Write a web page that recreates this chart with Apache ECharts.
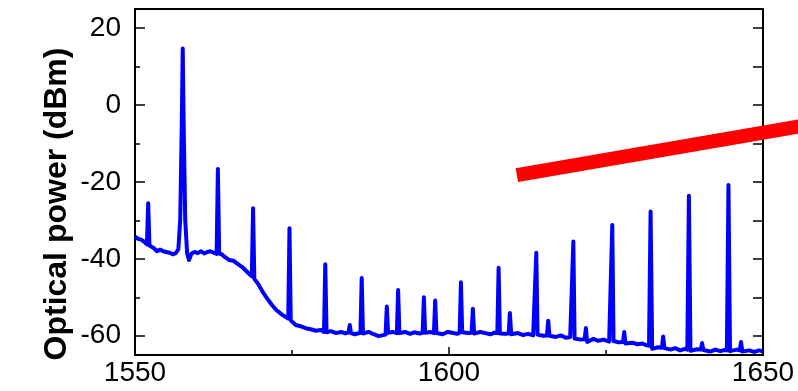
<!DOCTYPE html>
<html>
<head>
<meta charset="utf-8">
<script src="https://cdn.jsdelivr.net/npm/echarts@6/dist/echarts.min.js"></script>
<style>
  html, body { margin: 0; padding: 0; background: #fff; }
  #chart { width: 798px; height: 391px; }
</style>
</head>
<body>
<div id="chart"></div>
<script>
// Optical spectrum: wavelength (nm) and measured power (dBm)
const wavelength = [
  1550.0, 1550.5, 1551.0, 1551.5, 1551.9, 1552.1, 1552.3, 1552.6, 1553.0, 1553.5,
  1554.0, 1554.5, 1555.0, 1555.5, 1556.0, 1556.5, 1556.9, 1557.2, 1557.45, 1557.6,
  1557.75, 1558.0, 1558.3, 1558.6, 1559.0, 1559.5, 1560.0, 1560.5, 1561.0, 1561.5,
  1562.0, 1562.5, 1563.0, 1563.2, 1563.4, 1563.8, 1564.3, 1565.0, 1565.7, 1566.5,
  1567.2, 1568.0, 1568.6, 1568.8, 1569.0, 1569.6, 1570.3, 1571.0, 1571.8, 1572.5,
  1573.4, 1574.4, 1574.6, 1574.8, 1575.6, 1576.5, 1577.3, 1578.0, 1578.8, 1579.6,
  1580.1, 1580.3, 1580.5, 1581.2, 1582.0, 1582.8, 1583.5, 1584.0, 1584.2, 1584.4,
  1585.0, 1585.9, 1586.1, 1586.3, 1587.2, 1588.0, 1588.8, 1589.9, 1590.1, 1590.3,
  1591.0, 1591.7, 1591.9, 1592.1, 1593.0, 1593.8, 1594.5, 1595.3, 1595.8, 1596.0,
  1596.2, 1597.0, 1597.6, 1597.8, 1598.0, 1599.0, 1599.8, 1600.5, 1601.3, 1601.7,
  1601.9, 1602.1, 1603.0, 1603.6, 1603.8, 1604.0, 1605.0, 1605.8, 1606.6, 1607.3,
  1607.7, 1607.9, 1608.1, 1609.0, 1609.5, 1609.7, 1609.9, 1611.0, 1611.8, 1612.6,
  1613.4, 1613.7, 1613.9, 1614.1, 1615.0, 1615.6, 1615.8, 1616.0, 1617.0, 1617.8,
  1618.6, 1619.3, 1619.6, 1619.8, 1620.0, 1621.0, 1621.6, 1621.8, 1622.0, 1623.0,
  1623.8, 1624.6, 1625.5, 1625.8, 1626.0, 1626.2, 1627.0, 1627.7, 1627.9, 1628.1,
  1629.2, 1630.0, 1630.8, 1631.5, 1631.85, 1632.1, 1632.35, 1633.3, 1633.9, 1634.1,
  1634.3, 1635.3, 1636.0, 1636.8, 1637.6, 1637.95, 1638.2, 1638.45, 1639.5, 1640.1,
  1640.3, 1640.5, 1641.6, 1642.4, 1643.2, 1643.9, 1644.25, 1644.5, 1644.75, 1645.8,
  1646.3, 1646.5, 1646.7, 1647.8, 1648.6, 1649.4, 1650.0
];
const power = [
  -34.2, -34.8, -35.0, -35.6, -36.2, -25.5, -36.5, -37.0, -37.2, -38.0,
  -37.6, -38.0, -38.2, -38.4, -38.8, -38.5, -37.5, -30.0, -5.0, 14.7,
  -5.0, -30.0, -38.5, -40.3, -38.6, -38.2, -38.5, -38.0, -38.6, -38.2,
  -38.0, -38.4, -38.7, -16.6, -38.6, -38.8, -39.5, -40.3, -40.5, -41.5,
  -42.3, -43.6, -44.5, -26.8, -45.2, -46.5, -48.5, -50.2, -52.0, -53.3,
  -54.5, -55.5, -32.0, -56.0, -57.2, -57.6, -58.1, -58.3, -58.7, -58.5,
  -59.0, -41.4, -59.1, -58.8, -59.3, -59.0, -59.4, -59.1, -57.2, -59.3,
  -59.6, -59.2, -45.0, -59.4, -59.0, -59.6, -60.1, -59.7, -52.4, -59.2,
  -59.0, -59.3, -48.1, -59.3, -59.0, -59.5, -59.1, -59.4, -59.2, -50.0,
  -59.2, -59.0, -59.3, -50.8, -59.3, -59.6, -59.0, -59.2, -59.5, -59.2,
  -46.1, -59.1, -59.3, -59.2, -53.0, -59.4, -59.0, -59.3, -59.6, -59.2,
  -59.3, -42.3, -59.4, -59.5, -59.4, -54.1, -59.6, -59.3, -59.8, -59.5,
  -59.9, -59.7, -38.4, -59.7, -60.0, -59.9, -56.1, -60.0, -60.3, -59.9,
  -60.5, -60.3, -60.4, -35.5, -60.7, -61.0, -60.9, -58.0, -61.6, -60.8,
  -61.3, -61.0, -61.5, -61.3, -31.2, -61.4, -61.7, -61.6, -59.0, -62.0,
  -61.8, -62.2, -62.0, -62.5, -62.6, -27.7, -63.4, -63.0, -63.1, -60.2,
  -63.2, -63.6, -63.2, -63.8, -63.4, -63.6, -23.6, -63.9, -63.5, -63.6,
  -61.9, -63.7, -64.1, -63.6, -64.0, -63.7, -63.8, -20.8, -64.0, -63.6,
  -63.8, -61.6, -64.1, -63.8, -64.2, -63.8, -64.1
];

// Straight guide line running past the right edge of the frame
const guideX = [1610.8, 1662.0];
const guideY = [-18.2, -3.8];

// Axis ranges and tick values
const xMin = 1550, xMax = 1650, xStep = 50;
const yMin = -65, yMax = 25;
const yMajorTicks = [-60, -40, -20, 0, 20];
const yMinorTicks = [-50, -30, -10, 10];
const yRightTicks = [-60, -50, -40, -30, -20, -10, 0, 10, 20];

const spectrum = wavelength.map((w, i) => [w, power[i]]);

const chart = echarts.init(document.getElementById('chart'), null, { renderer: 'canvas' });

const font = 'Liberation Sans, Arial, Helvetica, sans-serif';
const axisLine = { show: true, onZero: false, lineStyle: { color: '#000', width: 2 } };

chart.setOption({
  animation: false,
  backgroundColor: '#fff',
  grid: { left: 135, right: 35, top: 9, bottom: 36, containLabel: false },
  xAxis: [
    {
      type: 'value', position: 'bottom', min: xMin, max: xMax, interval: xStep,
      axisLine: axisLine,
      axisTick: { show: true, inside: true, length: 8, lineStyle: { color: '#000', width: 1.5 } },
      minorTick: { show: true, splitNumber: 2, length: 5, lineStyle: { color: '#000', width: 1.5 } },
      splitLine: { show: false },
      axisLabel: { color: '#000', fontSize: 28, fontFamily: font, margin: 4,
                   formatter: v => String(v) }
    },
    {
      type: 'value', position: 'top', min: xMin, max: xMax, interval: xStep,
      axisLine: axisLine, axisTick: { show: false }, axisLabel: { show: false },
      splitLine: { show: false }
    }
  ],
  yAxis: [
    {
      type: 'value', position: 'left', min: yMin, max: yMax,
      axisLine: axisLine,
      axisTick: { show: true, inside: true, length: 10, customValues: yMajorTicks,
                  lineStyle: { color: '#000', width: 1.5 } },
      axisLabel: { color: '#000', fontSize: 28, fontFamily: font, margin: 14,
                   customValues: yMajorTicks },
      splitLine: { show: false }
    },
    {
      type: 'value', position: 'left', min: yMin, max: yMax,
      axisLine: { show: false },
      axisTick: { show: true, inside: true, length: 5, customValues: yMinorTicks,
                  lineStyle: { color: '#000', width: 1.5 } },
      axisLabel: { show: false },
      splitLine: { show: false }
    },
    {
      type: 'value', position: 'right', min: yMin, max: yMax,
      axisLine: axisLine,
      axisTick: { show: true, inside: true, length: 10, customValues: yRightTicks,
                  lineStyle: { color: '#000', width: 1.5 } },
      axisLabel: { show: false },
      splitLine: { show: false }
    }
  ],
  series: [
    {
      type: 'line', data: spectrum, xAxisIndex: 0, yAxisIndex: 0,
      showSymbol: false, symbol: 'none', z: 3,
      lineStyle: { color: '#0000ff', width: 4, join: 'round' }
    }
  ]
});

// The guide line extends beyond the frame, so it is placed through the axis
// scales (convertToPixel) and drawn as an unclipped graphic polyline.
const guidePoints = guideX.map((w, i) =>
  chart.convertToPixel({ xAxisIndex: 0, yAxisIndex: 0 }, [w, guideY[i]]));

chart.setOption({
  graphic: [
    {
      type: 'text', x: 57, y: 204, rotation: Math.PI / 2,
      style: {
        text: 'Optical power (dBm)', fill: '#000',
        font: 'bold 32px ' + font, align: 'center', verticalAlign: 'middle'
      }
    },
    {
      type: 'polyline', z: 10,
      shape: { points: guidePoints },
      style: { stroke: '#ff0000', lineWidth: 14, lineCap: 'butt', fill: null }
    }
  ]
});
</script>
</body>
</html>
